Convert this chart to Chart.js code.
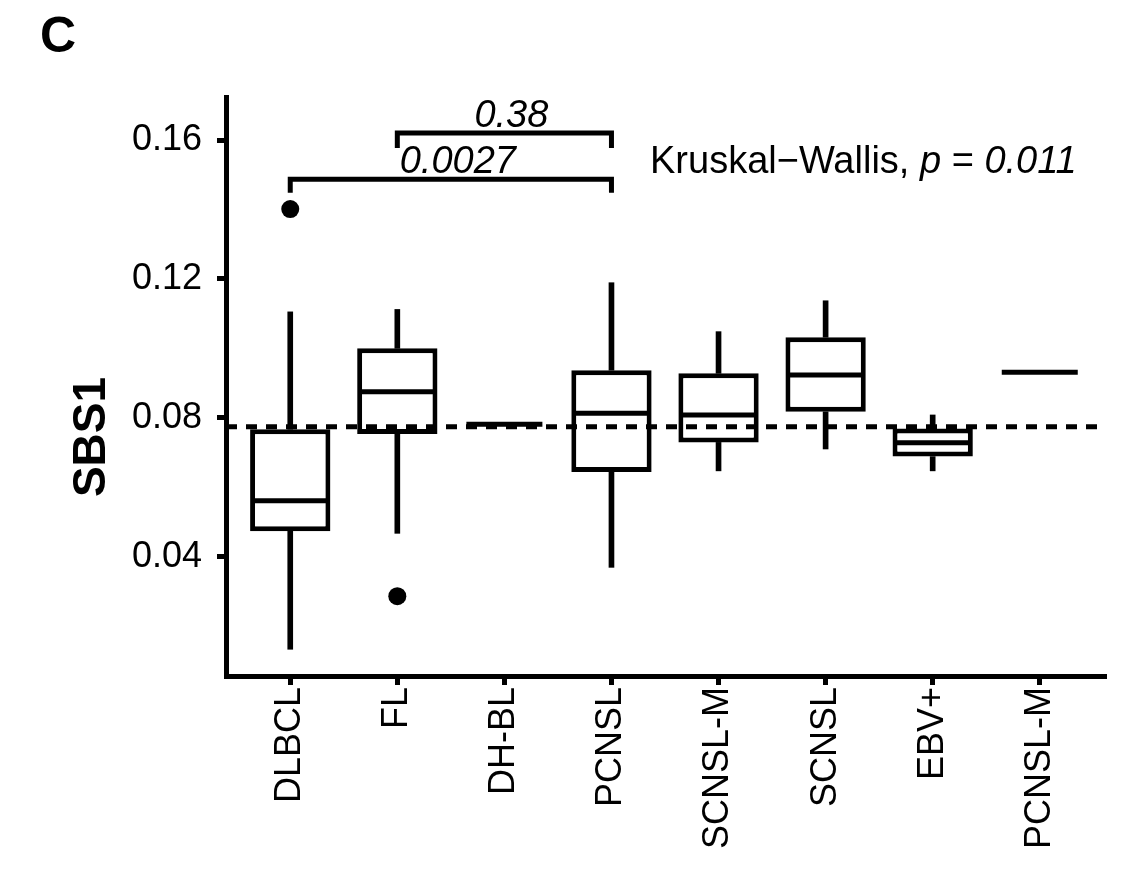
<!DOCTYPE html>
<html>
<head>
<meta charset="utf-8">
<title>SBS1 by lymphoma subtype</title>
<script src="https://cdn.jsdelivr.net/npm/chart.js@4"></script>
<style>
  html, body { margin: 0; padding: 0; background: #fff; }
  canvas { display: block; }
</style>
</head>
<body>
<canvas id="sbsChart" width="1139" height="878"></canvas>
<script>
// values
const groups = ['DLBCL', 'FL', 'DH-BL', 'PCNSL', 'SCNSL-M', 'SCNSL', 'EBV+', 'PCNSL-M'];
const whiskerLow  = [0.0133, 0.0467, 0.0781, 0.0369, 0.0647, 0.0710, 0.0647, 0.0931];
const boxLow      = [0.0473, 0.0753, 0.0781, 0.0644, 0.0729, 0.0817, 0.0688, 0.0931];
const medians     = [0.0561, 0.0875, 0.0781, 0.0813, 0.0808, 0.0923, 0.0728, 0.0931];
const boxHigh     = [0.0767, 0.1000, 0.0781, 0.0937, 0.0928, 0.1032, 0.0769, 0.0931];
const whiskerHigh = [0.1105, 0.1112, 0.0781, 0.1189, 0.1048, 0.1137, 0.0808, 0.0931];
const outlierGroups = ['DLBCL', 'FL'];
const outlierValues = [0.1401, 0.0286];
const overallMean = 0.0774;
const yTicks = [0.04, 0.08, 0.12, 0.16];
const pairFrom = ['DLBCL', 'FL'];
const pairTo = ['PCNSL', 'PCNSL'];
const pairBarY = [0.1487, 0.1620];
const pairTipY = [0.1448, 0.1577];
const pairLabels = ['0.0027', '0.38'];

const FONT = '"Liberation Sans", Arial, Helvetica, sans-serif';
const LW = 5;
const idx = g => groups.indexOf(g);

const boxDatasets = [
  {
    type: 'bar', label: 'upper whisker',
    data: groups.map((g, i) => ({ x: i, y: [boxHigh[i], whiskerHigh[i]] })),
    backgroundColor: '#000', barThickness: LW, maxBarThickness: LW,
    grouped: false, order: 6
  },
  {
    type: 'bar', label: 'lower whisker',
    data: groups.map((g, i) => ({ x: i, y: [whiskerLow[i], boxLow[i]] })),
    backgroundColor: '#000', barThickness: LW, maxBarThickness: LW,
    grouped: false, order: 6
  },
  {
    type: 'bar', label: 'box',
    data: groups.map((g, i) => ({ x: i, y: [boxLow[i], boxHigh[i]] })),
    backgroundColor: '#fff', borderColor: '#000', borderWidth: LW, borderSkipped: false,
    categoryPercentage: 1, barPercentage: 0.75, grouped: false, order: 5
  },
  {
    type: 'line', label: 'median',
    data: medians.map((m, i) => ({ x: i, y: m })),
    showLine: false, pointStyle: 'line', pointRadius: 38, pointHoverRadius: 38,
    pointBorderWidth: LW, pointBorderColor: '#000', order: 4
  },
  {
    type: 'line', label: 'outliers',
    data: outlierGroups.map((g, k) => ({ x: idx(g), y: outlierValues[k] })),
    showLine: false, pointStyle: 'circle', pointRadius: 9, pointHoverRadius: 9,
    pointBackgroundColor: '#000', pointBorderWidth: 0, order: 3
  },
  {
    type: 'line', label: 'mean',
    data: [{ x: -0.6, y: overallMean }, { x: 7.6, y: overallMean }],
    borderColor: '#000', borderWidth: LW, borderDash: [11, 9], pointRadius: 0, order: 1
  }
];

const bracketDatasets = pairFrom.map((f, k) => ({
  type: 'line', label: 'pair ' + k,
  data: [
    { x: idx(f), y: pairTipY[k] }, { x: idx(f), y: pairBarY[k] },
    { x: idx(pairTo[k]), y: pairBarY[k] }, { x: idx(pairTo[k]), y: pairTipY[k] }
  ],
  borderColor: '#000', borderWidth: LW, pointRadius: 0, fill: false, order: 2
}));

// extra text: panel letter, axis title, p values, Kruskal-Wallis label
const annotations = {
  id: 'annotations',
  afterDraw(chart) {
    const { ctx, scales: { x, y } } = chart;
    ctx.save();
    ctx.fillStyle = '#000';
    ctx.textBaseline = 'alphabetic';

    ctx.font = 'bold 50px ' + FONT;
    ctx.textAlign = 'left';
    ctx.fillText('C', 40, 52);

    ctx.save();
    ctx.translate(105, 437);
    ctx.rotate(-Math.PI / 2);
    ctx.font = 'bold 46px ' + FONT;
    ctx.textAlign = 'center';
    ctx.fillText('SBS1', 0, 0);
    ctx.restore();

    ctx.font = 'italic 38px ' + FONT;
    ctx.textAlign = 'center';
    pairLabels.forEach((lab, k) => {
      const mid = (x.getPixelForValue(idx(pairFrom[k])) + x.getPixelForValue(idx(pairTo[k]))) / 2;
      ctx.fillText(lab, mid + 7, y.getPixelForValue(pairBarY[k]) - 6);
    });

    const parts = [['Kruskal\u2212Wallis, ', ''], ['p', 'italic '], [' = ', ''], ['0.011', 'italic ']];
    let px = x.getPixelForValue(3.36);
    const py = y.getPixelForValue(0.1505);
    ctx.textAlign = 'left';
    parts.forEach(([txt, style]) => {
      ctx.font = style + '38px ' + FONT;
      ctx.fillText(txt, px, py);
      px += ctx.measureText(txt).width;
    });
    ctx.restore();
  }
};

new Chart(document.getElementById('sbsChart'), {
  type: 'bar',
  data: { datasets: boxDatasets.concat(bracketDatasets) },
  options: {
    responsive: false,
    animation: false,
    events: [],
    layout: { autoPadding: false, padding: { left: 0, top: 97, right: 35, bottom: 0 } },
    plugins: { legend: { display: false }, tooltip: { enabled: false } },
    scales: {
      x: {
        type: 'linear',
        min: -0.6, max: 7.6,
        offset: false,
        afterBuildTicks: s => { s.ticks = groups.map((g, i) => ({ value: i })); },
        afterFit: s => { s.height = 202; s.paddingLeft = 0; s.paddingRight = 0; },
        grid: { offset: false, drawOnChartArea: false, drawTicks: true, tickLength: 9,
                lineWidth: LW, tickWidth: LW, color: '#000', tickColor: '#000' },
        border: { display: true, color: '#000', width: LW },
        ticks: {
          autoSkip: false, minRotation: 90, maxRotation: 90, padding: 2,
          color: '#000', font: { family: FONT, size: 36 },
          callback: v => groups[v]
        }
      },
      y: {
        type: 'linear',
        min: 0.0056, max: 0.1724,
        beginAtZero: false,
        afterBuildTicks: s => { s.ticks = yTicks.map(v => ({ value: v })); },
        afterFit: s => { s.width = 226; s.paddingTop = 0; s.paddingBottom = 0; },
        grid: { drawOnChartArea: false, drawTicks: true, tickLength: 9,
                lineWidth: LW, tickWidth: LW, color: '#000', tickColor: '#000' },
        border: { display: true, color: '#000', width: LW },
        ticks: {
          padding: 15, color: '#000', font: { family: FONT, size: 36 },
          callback: v => v.toFixed(2)
        }
      }
    }
  },
  plugins: [annotations]
});
</script>
</body>
</html>
